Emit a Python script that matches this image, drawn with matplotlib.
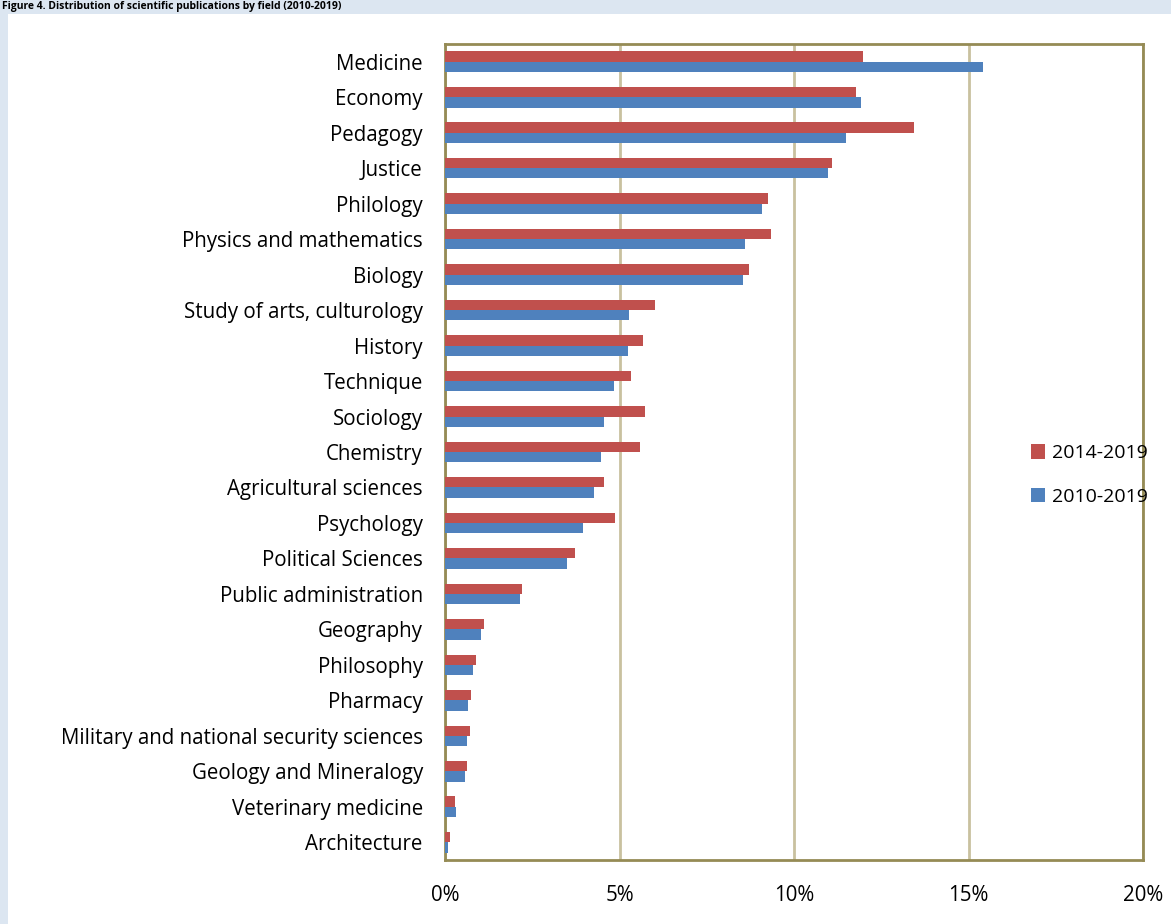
import numpy as np
import matplotlib.pyplot as plt
from matplotlib.patches import Rectangle
from matplotlib.ticker import FuncFormatter

# fields of science, top to bottom as in the chart
fields = [
    "Medicine", "Economy", "Pedagogy", "Justice", "Philology",
    "Physics and mathematics", "Biology", "Study of arts, culturology",
    "History", "Technique", "Sociology", "Chemistry", "Agricultural sciences",
    "Psychology", "Political Sciences", "Public administration", "Geography",
    "Philosophy", "Pharmacy", "Military and national security sciences",
    "Geology and Mineralogy", "Veterinary medicine", "Architecture",
]
# share of publications, %
share_2014_2019 = [11.97, 11.79, 13.45, 11.10, 9.26, 9.34, 8.71, 6.02, 5.67, 5.33,
                   5.73, 5.59, 4.56, 4.87, 3.72, 2.22, 1.12, 0.89, 0.74, 0.72,
                   0.64, 0.29, 0.13]
share_2010_2019 = [15.41, 11.92, 11.50, 10.96, 9.09, 8.60, 8.54, 5.27, 5.24, 4.84,
                   4.56, 4.47, 4.27, 3.95, 3.50, 2.15, 1.02, 0.79, 0.65, 0.64,
                   0.58, 0.32, 0.09]
x_ticks = [0, 5, 10, 15, 20]

red = "#C0504D"
blue = "#4F81BD"
frame = "#958B55"
grid = "#C9C19F"

plt.rcParams["font.family"] = ["Open Sans", "DejaVu Sans"]

fig = plt.figure(figsize=(11.71, 9.24), dpi=100)
fig.patch.set_facecolor("#DCE6F1")
# white panel behind the chart
fig.patches.append(Rectangle((8 / 1171, 0), 1, 1 - 14 / 924, transform=fig.transFigure,
                             facecolor="white", edgecolor="none", zorder=-5))
# caption squeezed into the top band (cut off in the source)
fig.text(2 / 1171, 1 - 1 / 924, "Figure 4. Distribution of scientific publications by field (2010-2019)",
         fontsize=7.5, fontweight="bold", va="top", ha="left")

ax = fig.add_axes([445 / 1171, 1 - 860 / 924, (1143 - 445) / 1171, (860 - 44) / 924])
ax.set_facecolor("none")

y = np.arange(len(fields))
h = 0.29
ax.barh(y - h / 2, share_2014_2019, height=h, color=red, label="2014-2019", zorder=3)
ax.barh(y + h / 2, share_2010_2019, height=h, color=blue, label="2010-2019", zorder=3)

ax.set_ylim(len(fields) - 0.5, -0.5)
ax.set_xlim(0, 20)
ax.set_xticks(x_ticks)
ax.xaxis.set_major_formatter(FuncFormatter(lambda v, p: f"{v:.0f}%"))
ax.set_yticks(y)
ax.set_yticklabels(fields)
ax.tick_params(axis="both", length=0, labelsize=14.8)
ax.tick_params(axis="x", pad=18)
ax.tick_params(axis="y", pad=16)
ax.grid(axis="x", color=grid, linewidth=2, zorder=0)
for s in ax.spines.values():
    s.set_color(frame)
    s.set_linewidth(2)

ax.legend(loc="center left", bbox_to_anchor=(1013 / 1171, 1 - 475 / 924),
          bbox_transform=fig.transFigure, frameon=False, fontsize=14,
          handlelength=0.75, handleheight=0.75, handletextpad=0.35, labelspacing=1.3)

fig.savefig("out.png", dpi=100)
